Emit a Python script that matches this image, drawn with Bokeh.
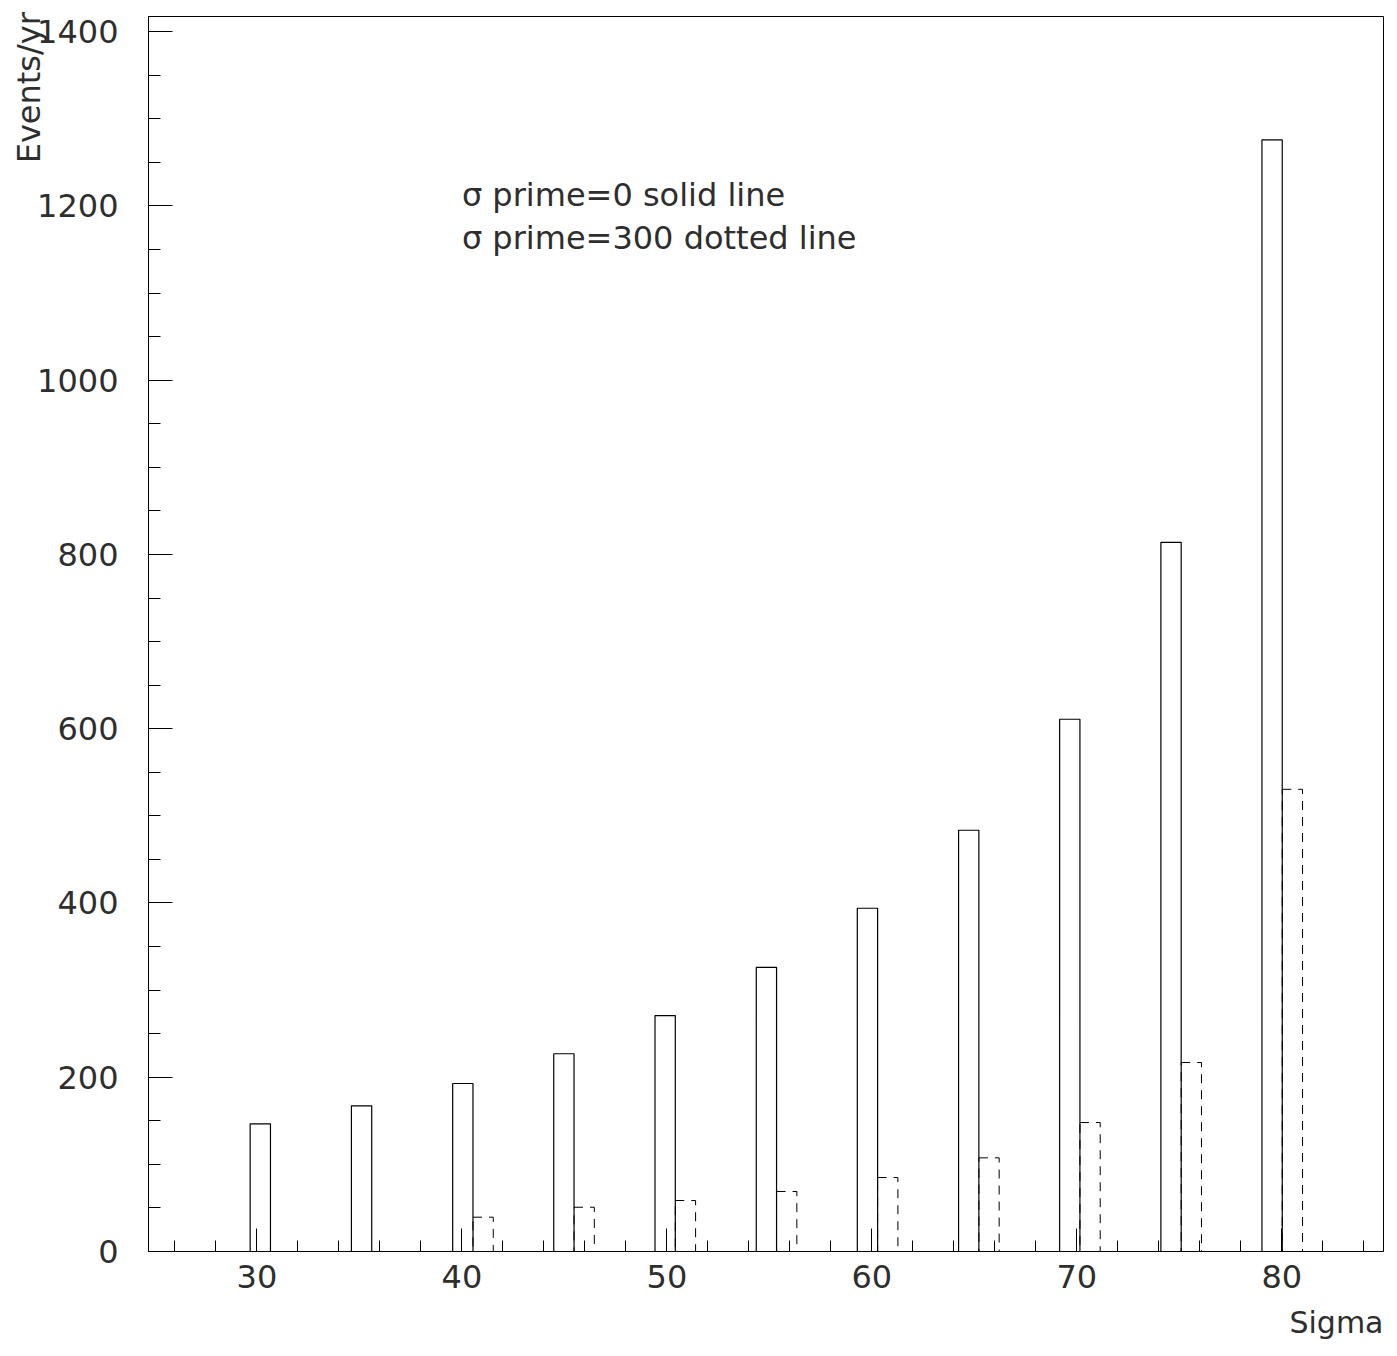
from bokeh.plotting import figure
from bokeh.models import Range1d, FixedTicker, Label, ColumnDataSource, Title
from bokeh.embed import file_html
from bokeh.resources import INLINE

# ---- data ----
sigma = [30, 35, 40, 45, 50, 55, 60, 65, 70, 75, 80]
# left edges of the histogram bins (in Sigma units) as drawn in the picture
bin_lo = [29.67, 34.61, 39.55, 44.48, 49.42, 54.36, 59.29, 64.23, 69.16, 74.10, 79.03]
bin_width = 0.99
events_prime0 = [146.5, 167.2, 192.8, 227.0, 270.8, 326.0, 394.0, 483.5, 610.9, 814.0, 1275.8]
events_prime300 = [0.0, 0.0, 39.4, 50.8, 58.5, 68.9, 84.9, 107.5, 148.0, 216.9, 530.5]

x_major = [30, 40, 50, 60, 70, 80]
x_minor = [v for v in range(26, 86, 2) if v % 10 != 0]
y_major = [0, 200, 400, 600, 800, 1000, 1200, 1400]
y_minor = [v for v in range(50, 1417, 50) if v % 200 != 0]

FONT = "DejaVu Sans"
TXT = "#2e2e2e"

solid = ColumnDataSource(dict(
    left=bin_lo,
    right=[b + bin_width for b in bin_lo],
    top=events_prime0,
    bottom=[0] * len(bin_lo),
))
dashed = ColumnDataSource(dict(
    left=[b + bin_width for b in bin_lo],
    right=[b + 2 * bin_width for b in bin_lo],
    top=events_prime300,
    bottom=[0] * len(bin_lo),
))

p = figure(width=1389, height=1351, output_backend="svg", toolbar_location=None,
           x_range=Range1d(24.71, 84.96), y_range=Range1d(0, 1417.5),
           min_border_left=148, min_border_right=6, min_border_top=16, min_border_bottom=100)
p.background_fill_color = "white"
p.border_fill_color = "white"
p.outline_line_color = "black"
p.outline_line_width = 1
p.xgrid.visible = False
p.ygrid.visible = False

# dashed histogram first so the solid bar edges cover shared lines
p.quad(left="left", right="right", top="top", bottom="bottom", source=dashed,
       fill_alpha=0, line_color="black", line_width=1, line_dash="9 7")
p.quad(left="left", right="right", top="top", bottom="bottom", source=solid,
       fill_alpha=0, line_color="black", line_width=1.2)

xa = p.xaxis[0]
xa.ticker = FixedTicker(ticks=x_major, minor_ticks=x_minor)
xa.major_tick_in = 23
xa.major_tick_out = 0
xa.minor_tick_in = 11
xa.minor_tick_out = 0
xa.major_label_standoff = 13
xa.major_label_text_font = FONT
xa.major_label_text_font_size = "32px"
xa.major_label_text_color = TXT
xa.axis_line_color = "black"

ya = p.yaxis[0]
ya.ticker = FixedTicker(ticks=y_major, minor_ticks=y_minor)
ya.major_tick_in = 24
ya.major_tick_out = 0
ya.minor_tick_in = 12
ya.minor_tick_out = 0
ya.major_label_standoff = 30
ya.major_label_text_font = FONT
ya.major_label_text_font_size = "32px"
ya.major_label_text_color = TXT
ya.major_label_orientation = "horizontal"
ya.axis_line_color = "black"

# y-axis title at the top end of the axis (label is centred on the anchor,
# so non-breaking spaces push the visible text below the top edge)
ya.axis_label = "Events/yr" + "\u00a0" * 14
ya.axis_label_align = "end"
ya.axis_label_standoff = -14
ya.axis_label_text_font = FONT
ya.axis_label_text_font_size = "32px"
ya.axis_label_text_font_style = "normal"
ya.axis_label_text_color = TXT

p.add_layout(Title(text="Sigma", align="right", text_font=FONT, text_font_size="30px",
                   text_font_style="normal", text_color=TXT, standoff=24), "below")

p.add_layout(Label(x=40.0, y=1213, text="σ prime=0 solid line", text_align="left",
                   text_baseline="alphabetic", text_font=FONT,
                   text_font_size="32px", text_color=TXT))
p.add_layout(Label(x=40.0, y=1163.5, text="σ prime=300 dotted line", text_align="left",
                   text_baseline="alphabetic", text_font=FONT,
                   text_font_size="32px", text_color=TXT))

open("out.html", "w").write(file_html(p, INLINE))
